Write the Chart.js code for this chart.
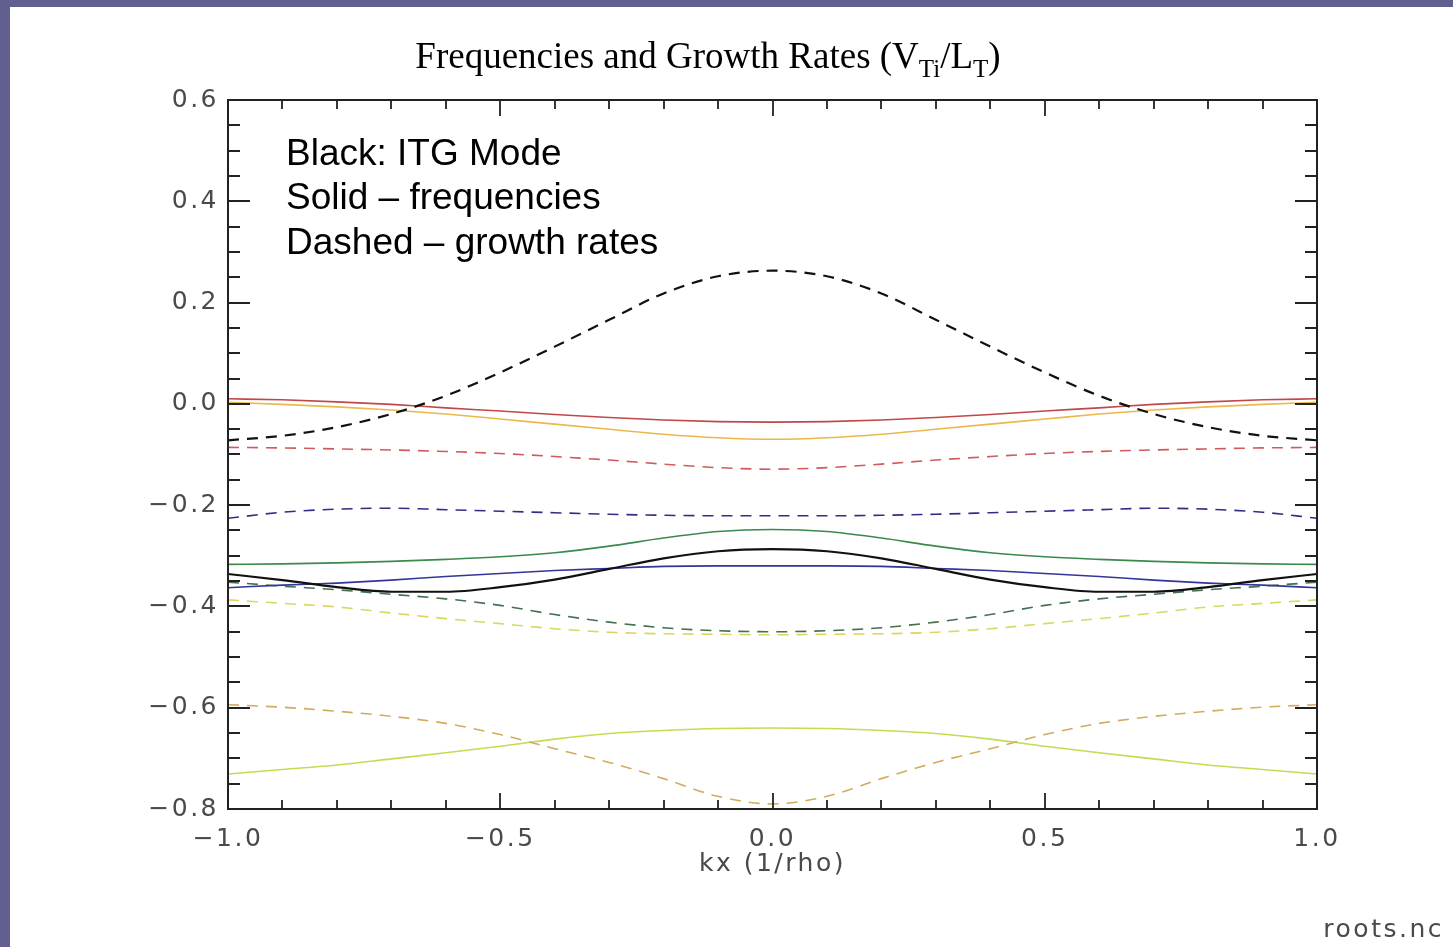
<!DOCTYPE html>
<html>
<head>
<meta charset="utf-8">
<script src="https://cdn.jsdelivr.net/npm/chart.js@4"></script>
<style>
  html, body { margin: 0; padding: 0; background: #fff; }
  #topbar { position: absolute; left: 0; top: 0; width: 1453px; height: 7px; background: #615f8f; }
  #sidebar { position: absolute; left: 0; top: 0; width: 10px; height: 947px; background: #615f8f; }
  canvas { position: absolute; left: 0; top: 0; }
</style>
</head>
<body>
<div id="topbar"></div>
<div id="sidebar"></div>
<canvas id="roots" width="1453" height="947"></canvas>
<script>
// kx grid (1/rho)
var kx = [-1.0, -0.9, -0.8, -0.7, -0.6, -0.5, -0.4, -0.3, -0.2, -0.1, 0.0,
           0.1,  0.2,  0.3,  0.4,  0.5,  0.6,  0.7,  0.8,  0.9, 1.0];

// ITG mode (black)
var itgFreq   = [-0.336, -0.348, -0.362, -0.371, -0.371, -0.362, -0.347, -0.326, -0.305, -0.291, -0.287,
                 -0.291, -0.305, -0.326, -0.347, -0.362, -0.371, -0.371, -0.362, -0.348, -0.336];
var itgGrowth = [-0.072, -0.063, -0.046, -0.020, 0.016, 0.062, 0.113, 0.166, 0.218, 0.252, 0.263,
                  0.252, 0.218, 0.166, 0.113, 0.062, 0.016, -0.020, -0.046, -0.063, -0.072];

// other roots, frequencies (solid)
var redFreq    = [0.010, 0.008, 0.004, -0.001, -0.008, -0.014, -0.021, -0.027, -0.032, -0.035, -0.036,
                  -0.035, -0.032, -0.027, -0.021, -0.014, -0.008, -0.001, 0.004, 0.008, 0.010];
var orangeFreq = [0.003, -0.001, -0.006, -0.012, -0.020, -0.030, -0.040, -0.050, -0.060, -0.067, -0.070,
                  -0.067, -0.060, -0.050, -0.040, -0.030, -0.020, -0.012, -0.006, -0.001, 0.003];
var greenFreq  = [-0.317, -0.316, -0.314, -0.311, -0.307, -0.302, -0.294, -0.281, -0.265, -0.252, -0.248,
                  -0.252, -0.265, -0.281, -0.294, -0.302, -0.307, -0.311, -0.314, -0.316, -0.317];
var blueFreq   = [-0.363, -0.358, -0.354, -0.348, -0.341, -0.335, -0.329, -0.325, -0.321, -0.320, -0.320,
                  -0.320, -0.321, -0.325, -0.329, -0.335, -0.341, -0.348, -0.354, -0.358, -0.363];
var limeFreq   = [-0.731, -0.722, -0.713, -0.701, -0.689, -0.676, -0.662, -0.651, -0.645, -0.641, -0.640,
                  -0.641, -0.645, -0.651, -0.662, -0.676, -0.689, -0.701, -0.713, -0.722, -0.731];

// other roots, growth rates (dashed)
var redGrowth    = [-0.086, -0.087, -0.089, -0.091, -0.094, -0.098, -0.104, -0.111, -0.119, -0.126, -0.129,
                    -0.126, -0.119, -0.111, -0.104, -0.098, -0.094, -0.091, -0.089, -0.087, -0.086];
var blueGrowth   = [-0.226, -0.214, -0.208, -0.206, -0.209, -0.212, -0.215, -0.218, -0.220, -0.221, -0.221,
                    -0.221, -0.220, -0.218, -0.215, -0.212, -0.209, -0.206, -0.208, -0.214, -0.226];
var greenGrowth  = [-0.352, -0.360, -0.367, -0.376, -0.385, -0.398, -0.416, -0.431, -0.442, -0.448, -0.450,
                    -0.448, -0.442, -0.431, -0.416, -0.398, -0.385, -0.376, -0.367, -0.360, -0.352];
var yellowGrowth = [-0.387, -0.394, -0.401, -0.413, -0.424, -0.434, -0.444, -0.451, -0.454, -0.455, -0.456,
                    -0.455, -0.454, -0.451, -0.444, -0.434, -0.424, -0.413, -0.401, -0.394, -0.387];
var tanGrowth    = [-0.594, -0.599, -0.607, -0.617, -0.631, -0.653, -0.681, -0.708, -0.740, -0.775, -0.790,
                    -0.775, -0.740, -0.708, -0.681, -0.653, -0.631, -0.617, -0.607, -0.599, -0.594];

var yTicks = [-0.8, -0.6, -0.4, -0.2, 0.0, 0.2, 0.4, 0.6];
var xTicks = [-1.0, -0.5, 0.0, 0.5, 1.0];

function pts(ys) {
    return kx.map(function (x, i) { return {x: x, y: ys[i]}; });
}

function fmt(v) {
    if (Math.abs(v) < 1e-9) return '0.0';
    return v.toFixed(1).replace('-', '\u2212');
}

function line(data, color, dashed, width) {
    return {
        data: pts(data),
        borderColor: color,
        borderWidth: width || 1.6,
        borderDash: dashed ? [11, 8] : [],
        pointRadius: 0,
        cubicInterpolationMode: 'monotone',
        fill: false
    };
}

// IDL-style frame: box with inward major/minor ticks on all four sides
var frame = {
    id: 'frame',
    beforeDraw: function (chart) {
        chart.ctx.letterSpacing = '2.5px';
    },
    afterDatasetsDraw: function (chart) {
        var ctx = chart.ctx, a = chart.chartArea;
        var x = chart.scales.x, y = chart.scales.y;
        ctx.save();
        ctx.strokeStyle = '#222';
        ctx.lineWidth = 2;
        ctx.strokeRect(a.left, a.top, a.right - a.left, a.bottom - a.top);
        ctx.lineWidth = 1.8;
        ctx.beginPath();
        for (var i = 0; i <= 28; i++) {
            var py = Math.round(y.getPixelForValue(y.min + i * 0.05));
            var len = i % 4 === 0 ? 22 : 12;
            ctx.moveTo(a.left, py); ctx.lineTo(a.left + len, py);
            ctx.moveTo(a.right, py); ctx.lineTo(a.right - len, py);
        }
        for (var j = 0; j <= 20; j++) {
            var px = Math.round(x.getPixelForValue(x.min + j * 0.1));
            var l = j % 5 === 0 ? 16 : 9;
            ctx.moveTo(px, a.bottom); ctx.lineTo(px, a.bottom - l);
            ctx.moveTo(px, a.top); ctx.lineTo(px, a.top + l);
        }
        ctx.stroke();
        ctx.restore();
    },
    afterDraw: function (chart) {
        var ctx = chart.ctx;
        ctx.save();
        ctx.letterSpacing = '0px';
        ctx.fillStyle = '#000';
        ctx.textBaseline = 'alphabetic';

        // title with subscripts
        var big = '37px "Liberation Serif"', small = '25px "Liberation Serif"';
        var parts = [
            ['Frequencies and Growth Rates (V', big, 0],
            ['Ti', small, 9],
            ['/L', big, 0],
            ['T', small, 9],
            [')', big, 0]
        ];
        var total = 0;
        parts.forEach(function (p) { ctx.font = p[1]; total += ctx.measureText(p[0]).width; });
        var cx = 708 - total / 2;
        parts.forEach(function (p) {
            ctx.font = p[1];
            ctx.fillText(p[0], cx, 68 + p[2]);
            cx += ctx.measureText(p[0]).width;
        });

        // note inside the plot
        ctx.font = '37px "Liberation Sans"';
        ctx.fillText('Black: ITG Mode', 286, 165);
        ctx.fillText('Solid \u2013 frequencies', 286, 209);
        ctx.fillText('Dashed \u2013 growth rates', 286, 254);

        // data file name
        ctx.letterSpacing = '2.5px';
        ctx.fillStyle = '#4a4a4a';
        ctx.font = '25px "DejaVu Sans"';
        ctx.textAlign = 'right';
        ctx.fillText('roots.nc', 1444, 937);
        ctx.restore();
    }
};

var tickFont = {family: 'DejaVu Sans', size: 25};

new Chart(document.getElementById('roots'), {
    type: 'line',
    data: {
        datasets: [
            line(itgGrowth, '#111', true, 2.2),
            line(itgFreq, '#111', false, 2.2),
            line(redFreq, '#c0484a'),
            line(orangeFreq, '#ecb84c'),
            line(redGrowth, '#d25a5c', true),
            line(blueGrowth, '#2e2e86', true),
            line(greenFreq, '#3a8a4c'),
            line(blueFreq, '#34349a'),
            line(greenGrowth, '#44704e', true),
            line(yellowGrowth, '#d8d860', true),
            line(tanGrowth, '#d2ac5e', true),
            line(limeFreq, '#c4dc50')
        ]
    },
    options: {
        responsive: false,
        animation: false,
        layout: {padding: {top: 100, right: 136, left: 0, bottom: 0}},
        plugins: {legend: {display: false}, tooltip: {enabled: false}},
        scales: {
            x: {
                type: 'linear',
                min: -1, max: 1,
                afterFit: function (s) { s.height = 138; },
                afterBuildTicks: function (s) { s.ticks = xTicks.map(function (v) { return {value: v}; }); },
                grid: {display: false, drawTicks: false},
                border: {display: false},
                ticks: {
                    padding: 15,
                    maxRotation: 0,
                    color: '#4a4a4a',
                    font: tickFont,
                    callback: function (v) { return fmt(v); }
                },
                title: {
                    display: true,
                    text: 'kx (1/rho)',
                    color: '#4a4a4a',
                    font: tickFont,
                    padding: {top: 0, bottom: 68}
                }
            },
            y: {
                min: -0.8, max: 0.6,
                afterFit: function (s) { s.width = 228; },
                afterBuildTicks: function (s) { s.ticks = yTicks.map(function (v) { return {value: v}; }); },
                grid: {display: false, drawTicks: false},
                border: {display: false},
                ticks: {
                    padding: 9,
                    color: '#4a4a4a',
                    font: tickFont,
                    callback: function (v) { return fmt(v); }
                }
            }
        }
    },
    plugins: [frame]
});
</script>
</body>
</html>
